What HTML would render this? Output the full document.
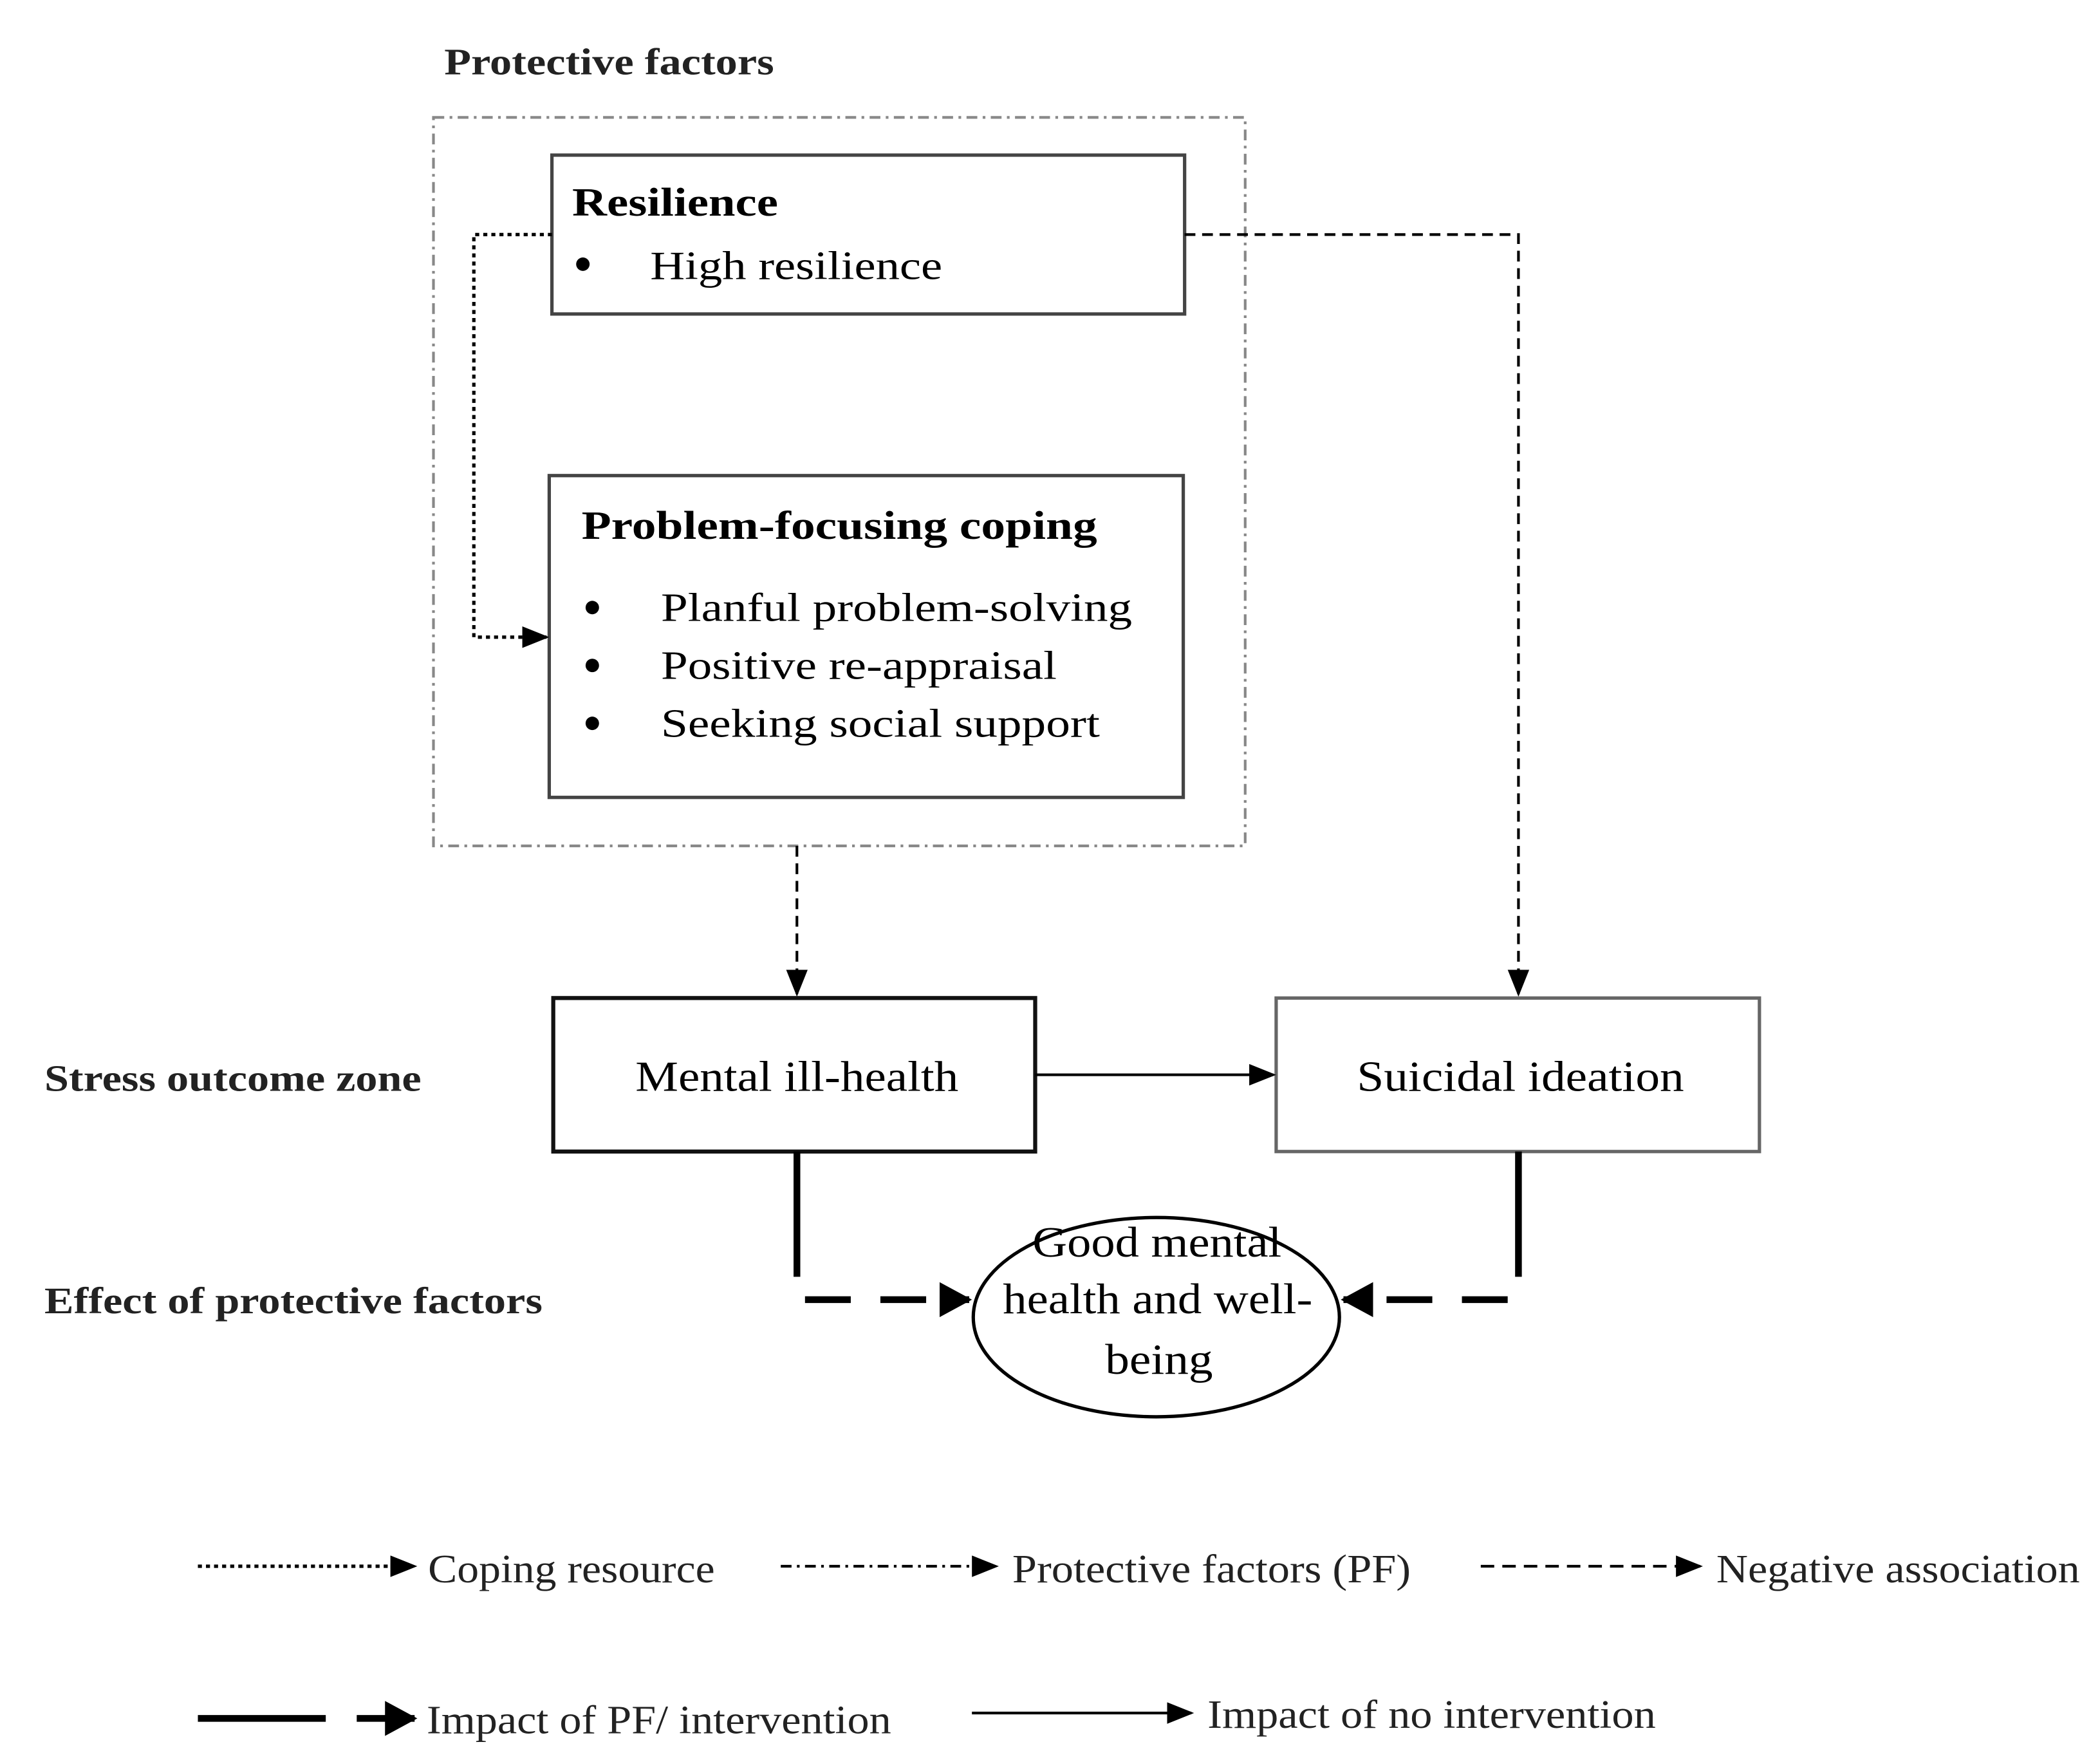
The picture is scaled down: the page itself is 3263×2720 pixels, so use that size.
<!DOCTYPE html>
<html><head><meta charset="utf-8"><style>html,body{margin:0;padding:0;background:#fff}svg{display:block}</style></head>
<body>
<svg width="3263" height="2720" viewBox="0 0 1560 1300" xmlns="http://www.w3.org/2000/svg" font-family="Liberation Serif, serif">
<defs>
<marker id="a" markerWidth="20" markerHeight="16" refX="18" refY="8" orient="auto" markerUnits="userSpaceOnUse"><path d="M0,0 L20,8 L0,16 z" fill="#000"/></marker>
<marker id="b" markerWidth="24" markerHeight="26" refX="22" refY="13" orient="auto" markerUnits="userSpaceOnUse"><path d="M0,0 L24,13 L0,26 z" fill="#000"/></marker>
</defs>
<rect width="1560" height="1300" fill="#fff"/>
<text x="330" y="55" font-size="28" font-weight="bold" fill="#222" textLength="245" lengthAdjust="spacingAndGlyphs">Protective factors</text>
<rect x="322" y="87" width="603" height="541" fill="none" stroke="#888" stroke-width="2" stroke-dasharray="8,4,2,4"/>
<rect x="410" y="115" width="470" height="118" fill="#fff" stroke="#444" stroke-width="2.5"/>
<text x="425" y="160" font-size="30" font-weight="bold" textLength="153" lengthAdjust="spacingAndGlyphs">Resilience</text>
<circle cx="433" cy="196" r="5"/>
<text x="483" y="207" font-size="30" textLength="217" lengthAdjust="spacingAndGlyphs">High resilience</text>
<rect x="408" y="353" width="471" height="239" fill="#fff" stroke="#444" stroke-width="2.5"/>
<text x="432" y="400" font-size="30" font-weight="bold" textLength="383" lengthAdjust="spacingAndGlyphs">Problem-focusing coping</text>
<circle cx="440" cy="451" r="5"/><circle cx="440" cy="494" r="5"/><circle cx="440" cy="537" r="5"/>
<text x="491" y="461" font-size="30" textLength="350" lengthAdjust="spacingAndGlyphs">Planful problem-solving</text>
<text x="491" y="504" font-size="30" textLength="294" lengthAdjust="spacingAndGlyphs">Positive re-appraisal</text>
<text x="491" y="547" font-size="30" textLength="326" lengthAdjust="spacingAndGlyphs">Seeking social support</text>
<path d="M410,174 H352 V473 H406" fill="none" stroke="#000" stroke-width="2.5" stroke-dasharray="3,3" marker-end="url(#a)"/>
<path d="M880,174 H1128 V738" fill="none" stroke="#000" stroke-width="2" stroke-dasharray="8,5" marker-end="url(#a)"/>
<path d="M592,628 V738" fill="none" stroke="#000" stroke-width="2" stroke-dasharray="8,5" marker-end="url(#a)"/>
<rect x="411" y="741" width="358" height="114" fill="#fff" stroke="#111" stroke-width="3"/>
<text x="472" y="810" font-size="32" textLength="240" lengthAdjust="spacingAndGlyphs">Mental ill-health</text>
<rect x="948" y="741" width="359" height="114" fill="#fff" stroke="#666" stroke-width="2.5"/>
<text x="1008" y="810" font-size="32" textLength="243" lengthAdjust="spacingAndGlyphs">Suicidal ideation</text>
<path d="M769,798 H946" stroke="#000" stroke-width="2" marker-end="url(#a)"/>
<text x="33" y="810" font-size="28" font-weight="bold" fill="#222" textLength="280" lengthAdjust="spacingAndGlyphs">Stress outcome zone</text>
<text x="33" y="975" font-size="28" font-weight="bold" fill="#222" textLength="370" lengthAdjust="spacingAndGlyphs">Effect of protective factors</text>
<path d="M592,855 V948" stroke="#000" stroke-width="5"/>
<path d="M598,965 H720" stroke="#000" stroke-width="5" stroke-dasharray="34,22" marker-end="url(#b)"/>
<path d="M1128,855 V948" stroke="#000" stroke-width="5"/>
<path d="M1120,965 H998" stroke="#000" stroke-width="5" stroke-dasharray="34,22" marker-end="url(#b)"/>
<ellipse cx="859" cy="978" rx="136" ry="74" fill="#fff" stroke="#000" stroke-width="2.5"/>
<text x="767" y="933" font-size="32" textLength="185" lengthAdjust="spacingAndGlyphs">Good mental</text>
<text x="745" y="975" font-size="32" textLength="230" lengthAdjust="spacingAndGlyphs">health and well-</text>
<text x="821" y="1020" font-size="32" textLength="80" lengthAdjust="spacingAndGlyphs">being</text>
<path d="M147,1163 H308" stroke="#000" stroke-width="2.5" stroke-dasharray="3,3" marker-end="url(#a)"/>
<text x="318" y="1175" font-size="30" fill="#222" textLength="213" lengthAdjust="spacingAndGlyphs">Coping resource</text>
<path d="M580,1163 H740" stroke="#000" stroke-width="2" stroke-dasharray="8,4,2,4" marker-end="url(#a)"/>
<text x="752" y="1175" font-size="30" fill="#222" textLength="296" lengthAdjust="spacingAndGlyphs">Protective factors (PF)</text>
<path d="M1100,1163 H1263" stroke="#000" stroke-width="2" stroke-dasharray="10,6" marker-end="url(#a)"/>
<text x="1275" y="1175" font-size="30" fill="#222" textLength="270" lengthAdjust="spacingAndGlyphs">Negative association</text>
<path d="M147,1276 H242" stroke="#000" stroke-width="5"/>
<path d="M265,1276 H308" stroke="#000" stroke-width="5" marker-end="url(#b)"/>
<text x="317" y="1287" font-size="30" fill="#222" textLength="345" lengthAdjust="spacingAndGlyphs">Impact of PF/ intervention</text>
<path d="M722,1272 H885" stroke="#000" stroke-width="2" marker-end="url(#a)"/>
<text x="897" y="1283" font-size="30" fill="#222" textLength="333" lengthAdjust="spacingAndGlyphs">Impact of no intervention</text>
</svg>
</body></html>
